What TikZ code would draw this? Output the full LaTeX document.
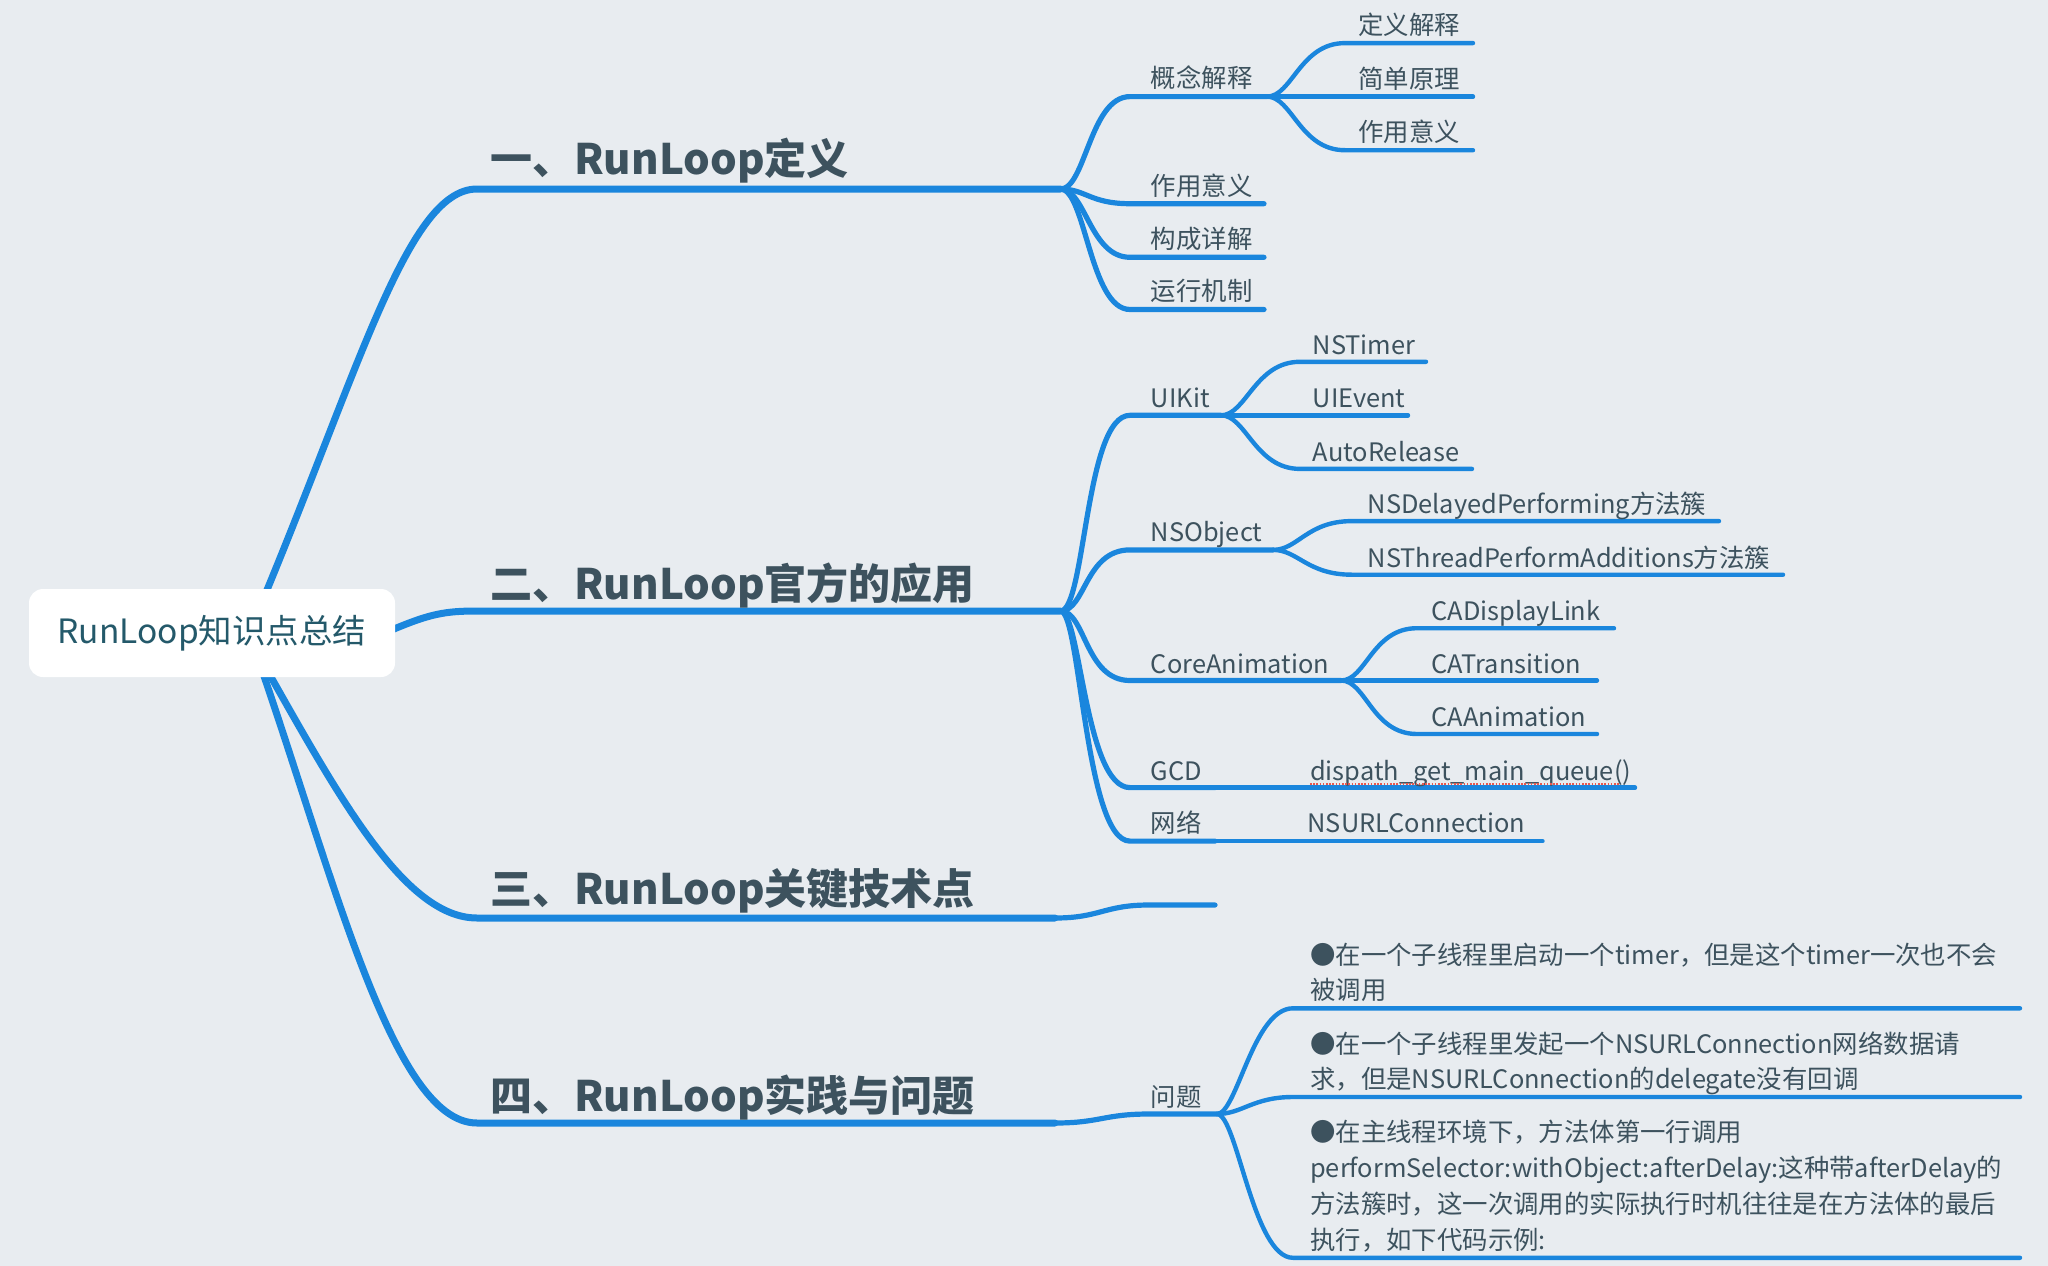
\documentclass[tikz,border=0pt]{standalone}
\usepackage{fontspec}
\setmainfont{Noto Sans CJK SC}
\definecolor{bgc}{HTML}{E8ECF0}
\definecolor{linec}{HTML}{1A86DD}
\definecolor{txtc}{HTML}{3D525E}
\definecolor{roottxt}{HTML}{24596A}
\definecolor{spellc}{HTML}{E8584F}
\begin{document}
\begin{tikzpicture}[x=1pt,y=-1pt,
  lv1/.style={draw=linec,line width=7pt,line cap=round},
  lv2/.style={draw=linec,line width=5.2pt,line cap=round},
  lv3/.style={draw=linec,line width=4.4pt,line cap=round},
  topic/.style={anchor=base west,inner sep=0pt,text=txtc,font=\fontsize{42}{50}\selectfont\bfseries},
  sub/.style={anchor=base west,inner sep=0pt,text=txtc,font=\fontsize{25.4}{30}\selectfont},
  rootbox/.style={fill=white,rounded corners=14pt,minimum width=366pt,minimum height=88pt,inner sep=0pt,text=roottxt,font=\fontsize{33.5}{40}\selectfont}
]
\useasboundingbox (0,0) rectangle (2048,1266);
\fill[bgc] (0,0) rectangle (2048,1266);

% ---------- coordinates ----------
\coordinate (rc) at (212,633);
\coordinate (b1s) at (246,640);
\coordinate (b1a) at (477,189);  \coordinate (b1f) at (1060.5,189);
\coordinate (b2s) at (300,632);
\coordinate (b2a) at (477,611);  \coordinate (b2f) at (1060.5,611);
\coordinate (b3s) at (250,640);
\coordinate (b3a) at (477,918);  \coordinate (b3f) at (1055,918);
\coordinate (b4s) at (249,633);
\coordinate (b4a) at (477,1123); \coordinate (b4f) at (1055,1123);

% ---------- main branches ----------
\draw[lv1] (b1s) .. controls (356,383) and (405,189) .. (b1a) -- (b1f);
\draw[lv1] (b2s) -- (394,629) .. controls (430,614) and (445,611) .. (b2a) -- (b2f);
\draw[lv1] (b3s) .. controls (330,780) and (400,918) .. (b3a) -- (b3f);
\draw[lv1] (b4s) .. controls (330,860) and (390,1123) .. (b4a) -- (b4f);

\node[rootbox] (root) at (rc) {RunLoop知识点总结};

\node[topic] (t1) at (490,174) {一、RunLoop定义};
\node[topic] (t2) at (490,599) {二、RunLoop官方的应用};
\node[topic] (t3) at (490,904) {三、RunLoop关键技术点};
\node[topic] (t4) at (490,1111) {四、RunLoop实践与问题};

% ---------- branch 1 ----------
\coordinate (gnS) at (1130,96.6);  \coordinate (gnF) at (1267,96.6);
\coordinate (zyS) at (1130,203.7); \coordinate (zyE) at (1264,203.7);
\coordinate (gcS) at (1130,257.3); \coordinate (gcE) at (1264,257.3);
\coordinate (yxS) at (1130,309.5); \coordinate (yxE) at (1264,309.5);
\draw[lv2] (b1f) .. controls +(25,0) and +(-40,0) .. (gnS) -- (gnF);
\draw[lv2] (b1f) .. controls +(25,0) and +(-40,0) .. (zyS) -- (zyE);
\draw[lv2] (b1f) .. controls +(25,0) and +(-40,0) .. (gcS) -- (gcE);
\draw[lv2] (b1f) .. controls +(25,0) and +(-40,0) .. (yxS) -- (yxE);
\node[sub] (gn) at (1150.7,87.9) {概念解释};
\node[sub] (zy) at (1150.7,195) {作用意义};
\node[sub] (gc) at (1150.7,248.6) {构成详解};
\node[sub] (yx) at (1150.7,300.7) {运行机制};

\coordinate (dyS) at (1345,43.1);  \coordinate (dyE) at (1473,43.1);
\coordinate (jdS) at (1345,96.6);  \coordinate (jdE) at (1473,96.6);
\coordinate (zy2S) at (1345,150.2); \coordinate (zy2E) at (1473,150.2);
\draw[lv3] (gnF) .. controls +(25,0) and +(-45,0) .. (dyS) -- (dyE);
\draw[lv3] (gnF) -- (jdE);
\draw[lv3] (gnF) .. controls +(25,0) and +(-45,0) .. (zy2S) -- (zy2E);
\node[sub] (dy) at (1358,34.6) {定义解释};
\node[sub] (jd) at (1358,88.2) {简单原理};
\node[sub] (zy2) at (1358,141.4) {作用意义};

% ---------- branch 2 ----------
\coordinate (uiS) at (1130,415.3); \coordinate (uiF) at (1221,415.3);
\coordinate (noS) at (1130,549.9); \coordinate (noF) at (1273,549.9);
\coordinate (caS) at (1130,680.5); \coordinate (caF) at (1341,680.5);
\coordinate (gdS) at (1130,787.6); \coordinate (gdF) at (1215,787.6);
\coordinate (nwS) at (1130,841.1); \coordinate (nwF) at (1215,841.1);
\draw[lv2] (b2f) .. controls +(25,0) and +(-45,0) .. (uiS) -- (uiF);
\draw[lv2] (b2f) .. controls +(25,0) and +(-45,0) .. (noS) -- (noF);
\draw[lv2] (b2f) .. controls +(25,0) and +(-45,0) .. (caS) -- (caF);
\draw[lv2] (b2f) .. controls +(20,0) and +(-45,0) .. (gdS) -- (gdF);
\draw[lv2] (b2f) .. controls +(20,0) and +(-45,0) .. (nwS) -- (nwF);
\node[sub] (ui) at (1150.7,407.9) {UIKit};
\node[sub] (no) at (1150.7,541.1) {NSObject};
\node[sub] (ca) at (1150.7,673) {CoreAnimation};
\node[sub] (gd) at (1150.7,780.1) {GCD};
\node[sub] (nw) at (1150.7,832.3) {网络};

\coordinate (ntS) at (1300,361.8); \coordinate (ntE) at (1426,361.8);
\coordinate (ueE) at (1408,415.3);
\coordinate (arS) at (1300,468.9); \coordinate (arE) at (1472,468.9);
\draw[lv3] (uiF) .. controls +(25,0) and +(-45,0) .. (ntS) -- (ntE);
\draw[lv3] (uiF) -- (ueE);
\draw[lv3] (uiF) .. controls +(25,0) and +(-45,0) .. (arS) -- (arE);
\node[sub] (nt) at (1312.6,354.3) {NSTimer};
\node[sub] (ue) at (1312.6,407.9) {UIEvent};
\node[sub] (ar) at (1312.6,461.4) {AutoRelease};

\coordinate (ndS) at (1352,521.1); \coordinate (ndE) at (1719,521.1);
\coordinate (ntpS) at (1352,574.7); \coordinate (ntpE) at (1783,574.7);
\draw[lv3] (noF) .. controls +(25,0) and +(-45,0) .. (ndS) -- (ndE);
\draw[lv3] (noF) .. controls +(25,0) and +(-45,0) .. (ntpS) -- (ntpE);
\node[sub] (nd) at (1367.5,513.7) {NSDelayedPerforming方法簇};
\node[sub] (ntp) at (1367.5,567.2) {NSThreadPerformAdditions方法簇};

\coordinate (cdS) at (1417,628.2); \coordinate (cdE) at (1614,628.2);
\coordinate (ctE) at (1597,680.5);
\coordinate (caaS) at (1417,734); \coordinate (caaE) at (1597,734);
\draw[lv3] (caF) .. controls +(25,0) and +(-45,0) .. (cdS) -- (cdE);
\draw[lv3] (caF) -- (ctE);
\draw[lv3] (caF) .. controls +(25,0) and +(-45,0) .. (caaS) -- (caaE);
\node[sub] (cd) at (1431.5,620.8) {CADisplayLink};
\node[sub] (ct) at (1431.5,673) {CATransition};
\node[sub] (caa) at (1431.5,726.5) {CAAnimation};

\coordinate (dqE) at (1635,787.6);
\coordinate (nuE) at (1542.5,841.1);
\draw[lv3] (gdF) -- (dqE);
\draw[lv3] (nwF) -- (nuE);
\node[sub] (dq) at (1310,780.1) {dispath\_get\_main\_queue()};
\draw[spellc,line width=2.2pt,dash pattern=on 1.6pt off 1.6pt] (dq.base west) ++(0,4) -- ++(310,0);
\node[sub] (nu) at (1307.4,832.3) {NSURLConnection};

% ---------- branch 3 ----------
\coordinate (k3S) at (1149,905); \coordinate (k3E) at (1215,905);
\draw[lv2] (b3f) .. controls +(45,0) and +(-45,0) .. (k3S) -- (k3E);

% ---------- branch 4 ----------
\coordinate (wtS) at (1149,1114); \coordinate (wtF) at (1217,1114);
\draw[lv2] (b4f) .. controls +(45,0) and +(-45,0) .. (wtS) -- (wtF);
\node[sub] (wt) at (1150.7,1106.5) {问题};

\coordinate (p1S) at (1293,1008.3); \coordinate (p1E) at (2020,1008.3);
\coordinate (p2S) at (1293,1097);   \coordinate (p2E) at (2020,1097);
\coordinate (p3S) at (1293,1257.8); \coordinate (p3E) at (2020,1257.8);
\draw[lv3] (wtF) .. controls +(20,0) and +(-40,0) .. (p1S) -- (p1E);
\draw[lv3] (wtF) .. controls +(25,0) and +(-40,0) .. (p2S) -- (p2E);
\draw[lv3] (wtF) .. controls +(20,0) and +(-40,0) .. (p3S) -- (p3E);

\node[sub] (p1a) at (1310,964.2) {●在一个子线程里启动一个timer，但是这个timer一次也不会};
\node[sub] (p1b) at (1310,999.5) {被调用};
\node[sub] (p2a) at (1310,1053.1) {●在一个子线程里发起一个NSURLConnection网络数据请};
\node[sub] (p2b) at (1310,1088.3) {求，但是NSURLConnection的delegate没有回调};
\node[sub] (p3a) at (1310,1141.9) {●在主线程环境下，方法体第一行调用};
\node[sub] (p3b) at (1310,1177.1) {performSelector:withObject:afterDelay:这种带afterDelay的};
\node[sub] (p3c) at (1310,1213.7) {方法簇时，这一次调用的实际执行时机往往是在方法体的最后};
\node[sub] (p3d) at (1310,1249) {执行，如下代码示例:};
\end{tikzpicture}
\end{document}
